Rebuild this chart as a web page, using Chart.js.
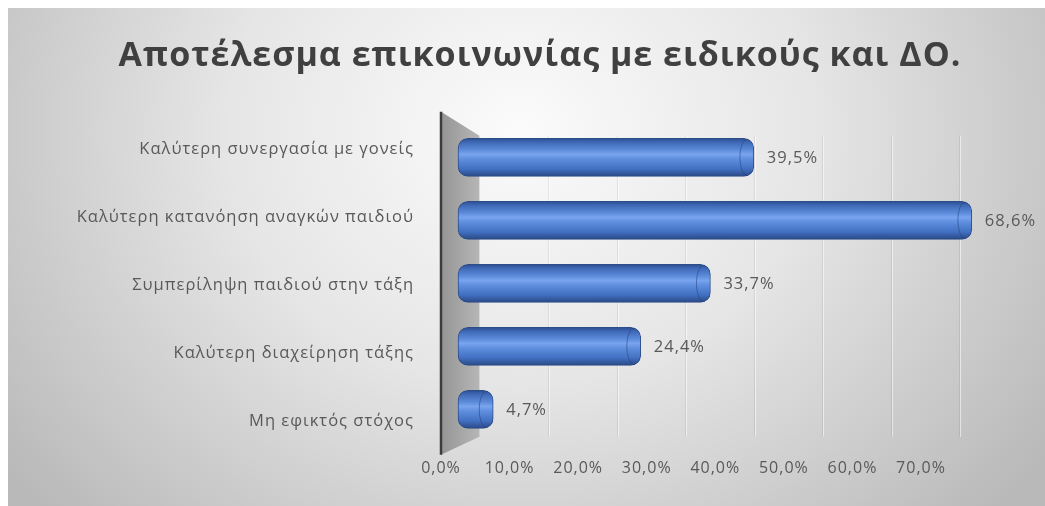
<!DOCTYPE html>
<html>
<head>
<meta charset="utf-8">
<script src="https://cdn.jsdelivr.net/npm/chart.js@4.4.1/dist/chart.umd.min.js"></script>
<style>
  html, body { margin: 0; padding: 0; background: #ffffff; }
  #wrap { width: 1045px; height: 506px; }
</style>
</head>
<body>
<div id="wrap"><canvas id="c" width="1045" height="506"></canvas></div>
<script>
const titleText = 'Αποτέλεσμα επικοινωνίας με ειδικούς και ΔΟ.';
const categories = [
  'Καλύτερη συνεργασία με γονείς',
  'Καλύτερη κατανόηση αναγκών παιδιού',
  'Συμπερίληψη παιδιού στην τάξη',
  'Καλύτερη διαχείρηση τάξης',
  'Μη εφικτός στόχος'
];
const values = [39.5, 68.6, 33.7, 24.4, 4.7];
const tickValues = [0, 10, 20, 30, 40, 50, 60, 70];

const fmt = v => v.toFixed(1).replace('.', ',') + '%';
const FONT = "'Open Sans', 'Noto Sans', sans-serif";
const SPACING = '1px';

const bgPlugin = {
  id: 'bg',
  beforeLayout(chart) { chart.ctx.letterSpacing = SPACING; },
  beforeDraw(chart) {
    const ctx = chart.ctx;
    ctx.letterSpacing = SPACING;
    ctx.save();
    ctx.fillStyle = '#ffffff';
    ctx.fillRect(0, 0, chart.width, chart.height);
    ctx.translate(520, 130);
    ctx.scale(1.15, 1);
    const g = ctx.createRadialGradient(0, 0, 0, 0, 0, 560);
    g.addColorStop(0, '#fbfbfb');
    g.addColorStop(0.45, '#e6e6e6');
    g.addColorStop(1, '#b9b9b9');
    ctx.fillStyle = g;
    ctx.fillRect((8 - 520) / 1.15, 8 - 130, (chart.width - 8) / 1.15, chart.height);
    ctx.restore();
  },
  beforeDatasetsDraw(chart) {
    const ctx = chart.ctx;
    const a = chart.chartArea;
    const xg = chart.scales.xg;
    const backX = xg.getPixelForValue(0);
    const frontX = a.left;
    const backTop = a.top + 21, backBottom = a.bottom - 18;
    ctx.save();
    tickValues.forEach(v => {
      if (v === 0) return;
      const px = Math.round(xg.getPixelForValue(v)) + 0.5;
      ctx.strokeStyle = 'rgba(0,0,0,0.07)';
      ctx.lineWidth = 1;
      ctx.beginPath(); ctx.moveTo(px, backTop); ctx.lineTo(px, backBottom); ctx.stroke();
      ctx.strokeStyle = 'rgba(255,255,255,0.55)';
      ctx.beginPath(); ctx.moveTo(px + 1, backTop); ctx.lineTo(px + 1, backBottom); ctx.stroke();
    });
    const wg = ctx.createLinearGradient(frontX, 0, backX, 0);
    wg.addColorStop(0, '#959595');
    wg.addColorStop(1, '#b6b6b6');
    ctx.fillStyle = wg;
    ctx.beginPath();
    ctx.moveTo(frontX, a.top - 3);
    ctx.lineTo(backX, backTop);
    ctx.lineTo(backX, backBottom);
    ctx.lineTo(frontX, a.bottom);
    ctx.closePath();
    ctx.fill();
    ctx.strokeStyle = '#3c3c3c';
    ctx.lineWidth = 2.5;
    ctx.beginPath();
    ctx.moveTo(frontX, a.top - 3);
    ctx.lineTo(frontX, a.bottom);
    ctx.stroke();
    ctx.restore();
  },
  afterDatasetsDraw(chart) {
    const ctx = chart.ctx;
    const meta = chart.getDatasetMeta(0);
    ctx.save();
    ctx.letterSpacing = SPACING;
    meta.data.forEach((el, i) => {
      const h = el.height;
      const rx = 7;
      ctx.strokeStyle = 'rgba(35,65,125,0.55)';
      ctx.lineWidth = 1;
      ctx.beginPath();
      ctx.ellipse(el.x - rx, el.y, rx, h / 2 - 1, 0, Math.PI / 2, Math.PI * 1.5);
      ctx.stroke();
      ctx.fillStyle = '#595959';
      ctx.font = '16.5px ' + FONT;
      ctx.textAlign = 'left';
      ctx.textBaseline = 'middle';
      ctx.fillText(fmt(values[i]), el.x + 13, el.y + 1);
    });
    ctx.restore();
  }
};

const barFill = (context) => {
  const chart = context.chart;
  const ys = chart.scales && chart.scales.y;
  if (!ys || !chart.chartArea) return '#4472c4';
  const yc = ys.getPixelForValue(context.dataIndex);
  const half = 19;
  const g = chart.ctx.createLinearGradient(0, yc - half, 0, yc + half);
  g.addColorStop(0, '#2c4d8c');
  g.addColorStop(0.1, '#3e68b6');
  g.addColorStop(0.3, '#5b8ad9');
  g.addColorStop(0.42, '#79a4ee');
  g.addColorStop(0.55, '#5f8ede');
  g.addColorStop(0.8, '#4270c2');
  g.addColorStop(1, '#2a4985');
  return g;
};

new Chart(document.getElementById('c'), {
  type: 'bar',
  data: {
    datasets: [{
      data: values.map((v, i) => ({ x: v, y: i })),
      backgroundColor: barFill,
      borderColor: '#2d4d88',
      borderWidth: 1,
      borderRadius: 10,
      borderSkipped: false,
      barThickness: 38,
      xAxisID: 'x',
      yAxisID: 'y'
    }]
  },
  options: {
    indexAxis: 'y',
    responsive: false,
    animation: false,
    layout: { padding: { left: 35, right: 0, top: 8, bottom: 24 } },
    plugins: {
      legend: { display: false },
      tooltip: { enabled: false },
      title: {
        display: true,
        text: titleText,
        color: '#404040',
        font: { family: FONT, size: 34, weight: 'bold' },
        padding: { top: 28, bottom: 38 }
      }
    },
    scales: {
      x: { type: 'linear', display: false, min: -2.27, max: 70.36 },
      xg: { type: 'linear', display: false, min: -5.6, max: 73.73 },
      xt: {
        type: 'linear', position: 'bottom', min: 0, max: 79.33,
        afterBuildTicks: (s) => { s.ticks = tickValues.map(v => ({ value: v })); },
        grid: { display: false, drawTicks: false },
        border: { display: false },
        ticks: {
          color: '#595959', font: { family: FONT, size: 16 }, padding: 4,
          maxRotation: 0, autoSkip: false,
          callback: (v) => fmt(v)
        }
      },
      y: { type: 'linear', display: false, offset: false, reverse: true, min: -0.675, max: 4.72, grid: { offset: false } },
      yl: {
        type: 'category', position: 'left', labels: categories, offset: true,
        afterFit: (s) => { s.width = 406; },
        grid: { display: false },
        border: { display: false },
        ticks: { color: '#595959', font: { family: FONT, size: 16.5 }, padding: 19 }
      },
      yr: {
        type: 'linear', position: 'right', display: true,
        afterFit: (s) => { s.width = 60; },
        grid: { display: false, drawTicks: false },
        border: { display: false },
        ticks: { display: false }
      }
    }
  },
  plugins: [bgPlugin]
});
</script>
</body>
</html>
